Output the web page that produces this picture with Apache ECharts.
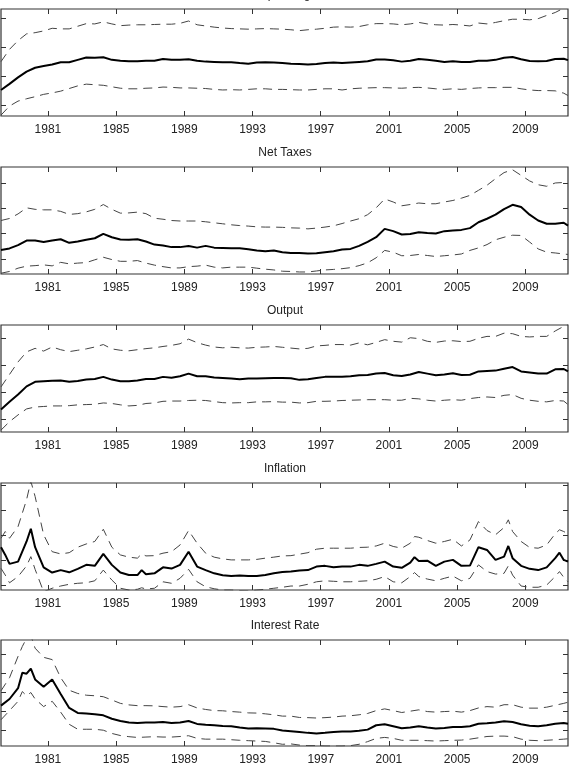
<!DOCTYPE html>
<html>
<head>
<meta charset="utf-8">
<script src="https://cdn.jsdelivr.net/npm/echarts@6/dist/echarts.min.js"></script>
<style>
  html, body { margin: 0; padding: 0; background: #fff; }
  #chart { width: 573px; height: 766px; }
</style>
</head>
<body>
<div id="chart"></div>
<script>
// dates in decimal years, one point every half year
const halfYears = [];
for (let t = 1978.25; t <= 2011.25; t += 0.5) halfYears.push(t);
halfYears.push(2011.5);
// inflation and interest rate get a few extra dates at their peaks
const inflationDates = halfYears.concat([1978.5, 1980, 1986.5, 2002.5, 2008, 2011]).sort((a, b) => a - b);
const rateDates = halfYears.concat([1979.5, 1980]).sort((a, b) => a - b);

const yearTicks = [1981, 1985, 1989, 1993, 1997, 2001, 2005, 2009];

// values in units of one y tick step (lowest tick = 0)
const spendMid = [0.53, 0.74, 0.96, 1.16, 1.29, 1.35, 1.40, 1.48, 1.48, 1.56,
  1.64, 1.63, 1.65, 1.56, 1.53, 1.51, 1.51, 1.53, 1.53, 1.59,
  1.56, 1.56, 1.58, 1.53, 1.50, 1.49, 1.48, 1.48, 1.45, 1.43,
  1.47, 1.48, 1.47, 1.45, 1.43, 1.42, 1.40, 1.42, 1.45, 1.47,
  1.45, 1.47, 1.49, 1.51, 1.57, 1.57, 1.55, 1.50, 1.53, 1.59,
  1.56, 1.53, 1.49, 1.51, 1.49, 1.49, 1.53, 1.53, 1.56, 1.63,
  1.66, 1.58, 1.52, 1.51, 1.52, 1.59, 1.60, 1.55];
const spendHi = [1.50, 1.92, 2.22, 2.45, 2.49, 2.55, 2.64, 2.62, 2.62, 2.71,
  2.80, 2.79, 2.86, 2.79, 2.73, 2.75, 2.76, 2.76, 2.77, 2.78,
  2.78, 2.81, 2.89, 2.76, 2.72, 2.68, 2.65, 2.63, 2.62, 2.61,
  2.62, 2.63, 2.62, 2.61, 2.59, 2.56, 2.59, 2.61, 2.64, 2.68,
  2.69, 2.68, 2.70, 2.76, 2.80, 2.80, 2.79, 2.76, 2.79, 2.84,
  2.79, 2.76, 2.75, 2.77, 2.75, 2.72, 2.82, 2.79, 2.84, 2.90,
  2.95, 2.95, 2.93, 2.97, 3.08, 3.18, 3.33, 3.45];
const spendLo = [-0.33, -0.02, 0.15, 0.23, 0.30, 0.38, 0.43, 0.49, 0.58, 0.67,
  0.73, 0.71, 0.69, 0.64, 0.59, 0.57, 0.57, 0.59, 0.60, 0.63,
  0.62, 0.60, 0.60, 0.59, 0.58, 0.55, 0.53, 0.54, 0.53, 0.55,
  0.57, 0.57, 0.55, 0.55, 0.54, 0.53, 0.53, 0.55, 0.57, 0.57,
  0.53, 0.57, 0.59, 0.60, 0.61, 0.61, 0.60, 0.59, 0.61, 0.62,
  0.60, 0.57, 0.55, 0.57, 0.55, 0.58, 0.60, 0.61, 0.61, 0.62,
  0.62, 0.57, 0.53, 0.51, 0.51, 0.50, 0.42, 0.34];

const taxMid = [0.36, 0.42, 0.55, 0.73, 0.73, 0.67, 0.73, 0.78, 0.64, 0.69,
  0.76, 0.82, 0.99, 0.86, 0.77, 0.76, 0.78, 0.69, 0.57, 0.53,
  0.47, 0.47, 0.51, 0.45, 0.52, 0.45, 0.44, 0.43, 0.43, 0.39,
  0.34, 0.31, 0.34, 0.27, 0.24, 0.24, 0.22, 0.23, 0.27, 0.31,
  0.38, 0.40, 0.52, 0.68, 0.86, 1.19, 1.10, 0.97, 0.99, 1.06,
  1.03, 1.01, 1.10, 1.13, 1.15, 1.22, 1.45, 1.59, 1.75, 1.97,
  2.14, 2.05, 1.75, 1.52, 1.39, 1.39, 1.43, 1.32];
const taxHi = [1.52, 1.60, 1.78, 2.02, 1.96, 1.94, 1.94, 1.88, 1.76, 1.79,
  1.86, 1.96, 2.15, 1.96, 1.81, 1.82, 1.85, 1.79, 1.61, 1.57,
  1.52, 1.50, 1.50, 1.50, 1.47, 1.43, 1.39, 1.35, 1.32, 1.30,
  1.27, 1.26, 1.26, 1.25, 1.23, 1.22, 1.19, 1.22, 1.26, 1.31,
  1.40, 1.50, 1.59, 1.75, 2.02, 2.37, 2.25, 2.10, 2.15, 2.21,
  2.18, 2.18, 2.25, 2.31, 2.40, 2.51, 2.71, 2.91, 3.17, 3.41,
  3.52, 3.30, 3.08, 2.93, 2.87, 3.00, 3.02, 2.97];
const taxLo = [-0.56, -0.49, -0.36, -0.28, -0.26, -0.23, -0.27, -0.13, -0.19, -0.16,
  -0.14, -0.03, 0.07, -0.02, -0.09, -0.09, -0.06, -0.16, -0.24, -0.30,
  -0.35, -0.35, -0.30, -0.28, -0.24, -0.32, -0.35, -0.32, -0.32, -0.32,
  -0.36, -0.40, -0.43, -0.48, -0.49, -0.51, -0.51, -0.47, -0.43, -0.41,
  -0.38, -0.34, -0.26, -0.15, 0.05, 0.34, 0.27, 0.13, 0.14, 0.18,
  0.14, 0.10, 0.13, 0.16, 0.20, 0.34, 0.44, 0.57, 0.76, 0.86,
  0.94, 0.93, 0.67, 0.40, 0.27, 0.24, 0.20, 0.18];

const outMid = [0.36, 0.64, 0.91, 1.21, 1.38, 1.40, 1.42, 1.43, 1.38, 1.41,
  1.46, 1.48, 1.56, 1.46, 1.40, 1.40, 1.43, 1.48, 1.48, 1.56,
  1.53, 1.58, 1.68, 1.58, 1.58, 1.54, 1.52, 1.50, 1.47, 1.50,
  1.50, 1.51, 1.52, 1.52, 1.51, 1.45, 1.47, 1.52, 1.56, 1.56,
  1.56, 1.58, 1.62, 1.63, 1.68, 1.70, 1.62, 1.59, 1.65, 1.74,
  1.68, 1.62, 1.65, 1.69, 1.63, 1.64, 1.76, 1.78, 1.79, 1.86,
  1.92, 1.76, 1.72, 1.68, 1.68, 1.84, 1.85, 1.76];
const outHi = [1.19, 1.65, 2.11, 2.48, 2.61, 2.51, 2.66, 2.56, 2.49, 2.54,
  2.59, 2.66, 2.75, 2.59, 2.54, 2.52, 2.56, 2.60, 2.63, 2.68,
  2.72, 2.78, 2.95, 2.82, 2.73, 2.66, 2.63, 2.65, 2.63, 2.62,
  2.65, 2.66, 2.68, 2.65, 2.62, 2.59, 2.61, 2.70, 2.72, 2.75,
  2.75, 2.73, 2.81, 2.74, 2.83, 2.93, 2.87, 2.84, 3.00, 2.97,
  2.87, 2.83, 2.88, 2.89, 2.86, 2.87, 2.98, 3.05, 3.05, 3.17,
  3.15, 3.05, 3.03, 3.05, 3.05, 3.25, 3.42, 3.49];
const outLo = [-0.40, -0.09, 0.16, 0.38, 0.45, 0.47, 0.49, 0.49, 0.50, 0.53,
  0.54, 0.55, 0.60, 0.58, 0.53, 0.49, 0.51, 0.58, 0.60, 0.66,
  0.67, 0.67, 0.69, 0.70, 0.69, 0.65, 0.61, 0.60, 0.61, 0.61,
  0.64, 0.64, 0.65, 0.63, 0.63, 0.60, 0.61, 0.66, 0.66, 0.67,
  0.69, 0.70, 0.71, 0.72, 0.72, 0.72, 0.70, 0.70, 0.77, 0.75,
  0.70, 0.67, 0.70, 0.72, 0.70, 0.76, 0.80, 0.82, 0.80, 0.88,
  0.91, 0.77, 0.70, 0.66, 0.64, 0.69, 0.67, 0.54];

const inflMid = [1.52, 1.21, 0.85, 0.94, 1.75, 2.26, 1.52, 0.71, 0.50, 0.60,
  0.51, 0.65, 0.81, 0.77, 1.25, 0.81, 0.50, 0.40, 0.40, 0.60,
  0.43, 0.47, 0.71, 0.66, 0.81, 1.34, 0.74, 0.60, 0.47, 0.39,
  0.36, 0.38, 0.36, 0.36, 0.40, 0.47, 0.52, 0.54, 0.58, 0.60,
  0.74, 0.77, 0.71, 0.74, 0.74, 0.81, 0.77, 0.85, 0.94, 0.74,
  0.69, 0.90, 1.12, 0.97, 0.98, 0.77, 0.94, 1.01, 0.77, 0.78,
  1.52, 1.41, 1.01, 1.14, 1.57, 1.08, 0.77, 0.65, 0.60, 0.71,
  1.08, 1.30, 1.01, 0.94];
const inflHi = [1.88, 2.15, 1.88, 2.35, 3.43, 4.17, 3.56, 2.02, 1.34, 1.25,
  1.30, 1.52, 1.65, 1.75, 2.24, 1.52, 1.21, 1.12, 1.08, 1.25,
  1.17, 1.18, 1.28, 1.34, 1.61, 2.19, 1.68, 1.28, 1.12, 1.05,
  1.01, 1.01, 1.01, 1.03, 1.08, 1.12, 1.17, 1.18, 1.24, 1.30,
  1.44, 1.48, 1.48, 1.48, 1.48, 1.51, 1.52, 1.57, 1.68, 1.55,
  1.48, 1.68, 1.95, 1.92, 1.79, 1.68, 1.75, 1.84, 1.57, 1.81,
  2.55, 2.19, 2.02, 2.31, 2.62, 2.15, 1.75, 1.51, 1.48, 1.61,
  2.06, 2.22, 2.15, 2.06];
const inflLo = [0.67, 0.40, 0.09, 0.34, 0.77, 1.14, 0.63, -0.27, -0.13, -0.04,
  0.03, 0.07, 0.09, 0.17, 0.60, 0.20, -0.13, -0.20, -0.17, -0.11,
  -0.16, -0.13, 0.13, 0.07, 0.27, 0.63, 0.13, -0.07, -0.15, -0.20,
  -0.20, -0.22, -0.23, -0.20, -0.17, -0.13, -0.09, -0.04, -0.04, 0.03,
  0.13, 0.17, 0.15, 0.13, 0.13, 0.15, 0.17, 0.23, 0.34, 0.13,
  0.09, 0.34, 0.50, 0.34, 0.24, 0.17, 0.27, 0.36, 0.17, 0.27,
  0.81, 0.54, 0.44, 0.47, 0.77, 0.40, -0.04, -0.09, -0.09, 0.00,
  0.34, 0.54, 0.31, 0.13];

const rateMid = [1.29, 1.64, 2.21, 3.02, 2.97, 3.24, 2.67, 2.28, 2.67, 1.90,
  1.17, 0.91, 0.88, 0.84, 0.78, 0.60, 0.48, 0.40, 0.38, 0.40,
  0.40, 0.43, 0.38, 0.40, 0.48, 0.33, 0.29, 0.26, 0.22, 0.21,
  0.14, 0.09, 0.10, 0.09, 0.07, -0.02, -0.05, -0.09, -0.14, -0.17,
  -0.14, -0.10, -0.07, -0.07, -0.03, 0.03, 0.26, 0.31, 0.21, 0.10,
  0.14, 0.21, 0.14, 0.09, 0.12, 0.17, 0.17, 0.21, 0.34, 0.36,
  0.40, 0.47, 0.43, 0.31, 0.24, 0.21, 0.26, 0.34, 0.38, 0.34];
const rateHi = [2.07, 2.76, 3.88, 4.40, 4.83, 4.97, 4.31, 3.83, 3.71, 2.76,
  2.10, 1.93, 1.84, 1.81, 1.76, 1.59, 1.41, 1.33, 1.29, 1.29,
  1.28, 1.24, 1.21, 1.24, 1.34, 1.17, 1.09, 1.03, 1.02, 0.98,
  0.95, 0.91, 0.90, 0.86, 0.81, 0.74, 0.74, 0.67, 0.66, 0.64,
  0.66, 0.69, 0.74, 0.76, 0.81, 0.88, 1.03, 1.12, 1.03, 0.93,
  1.00, 1.07, 0.98, 0.95, 0.98, 1.00, 0.95, 1.03, 1.17, 1.24,
  1.21, 1.34, 1.34, 1.21, 1.16, 1.16, 1.21, 1.31, 1.41, 1.47];
const rateLo = [0.55, 1.03, 1.52, 2.03, 1.81, 1.98, 1.64, 1.24, 1.52, 0.95,
  0.31, 0.05, 0.05, 0.05, 0.00, -0.17, -0.28, -0.34, -0.38, -0.36,
  -0.34, -0.36, -0.36, -0.33, -0.29, -0.43, -0.47, -0.47, -0.47, -0.50,
  -0.53, -0.55, -0.57, -0.59, -0.66, -0.74, -0.72, -0.78, -0.81, -0.81,
  -0.83, -0.83, -0.83, -0.81, -0.74, -0.60, -0.43, -0.38, -0.43, -0.53,
  -0.53, -0.53, -0.55, -0.57, -0.55, -0.53, -0.52, -0.47, -0.40, -0.33,
  -0.31, -0.31, -0.34, -0.47, -0.53, -0.55, -0.53, -0.50, -0.47, -0.45];

const panels = [
  { title: 'Spending', dates: halfYears, mid: spendMid, hi: spendHi, lo: spendLo, yMin: -0.36, yMax: 3.30, yTicks: [0, 1, 2, 3] },
  { title: 'Net Taxes', dates: halfYears, mid: taxMid, hi: taxHi, lo: taxLo, yMin: -0.59, yMax: 3.63, yTicks: [0, 1, 2, 3] },
  { title: 'Output', dates: halfYears, mid: outMid, hi: outHi, lo: outLo, yMin: -0.47, yMax: 3.47, yTicks: [0, 1, 2, 3] },
  { title: 'Inflation', dates: inflationDates, mid: inflMid, hi: inflHi, lo: inflLo, yMin: -0.20, yMax: 4.10, yTicks: [0, 1, 2, 3, 4] },
  { title: 'Interest Rate', dates: rateDates, mid: rateMid, hi: rateHi, lo: rateLo, yMin: -0.83, yMax: 4.74, yTicks: [0, 1, 2, 3, 4] },
];

const gridTops = [9, 167, 325, 483, 640];
const font = 'Liberation Sans, Arial, sans-serif';
const tickColor = '#333';

function pairs(xs, ys) {
  return xs.map((x, i) => [x, ys[i]]);
}

const option = { animation: false, graphic: [], grid: [], xAxis: [], yAxis: [], series: [] };

panels.forEach((p, k) => {
  // panel title, the first one sits mostly above the canvas
  option.graphic.push({
    type: 'text', x: 285, y: gridTops[k] - 20, silent: true,
    style: { text: p.title, align: 'center', verticalAlign: 'top', fontSize: 12, fill: '#222', font: '12px ' + font },
  });
  option.grid.push({
    left: 1, right: 5, top: gridTops[k], height: 107,
    show: true, borderColor: '#333', borderWidth: 1.2,
  });
  const xBase = {
    gridIndex: k, type: 'value', min: 1978.25, max: 2011.5,
    splitLine: { show: false }, axisLine: { show: false, onZero: false },
    axisTick: { inside: true, length: 5, customValues: yearTicks, lineStyle: { color: tickColor } },
  };
  option.xAxis.push(Object.assign({}, xBase, {
    position: 'bottom',
    axisLabel: { customValues: yearTicks, formatter: (v) => String(v), margin: 8, fontSize: 12, color: '#222', fontFamily: font },
  }));
  option.xAxis.push(Object.assign({}, xBase, { position: 'top', axisLabel: { show: false } }));
  const yBase = {
    gridIndex: k, type: 'value', min: p.yMin, max: p.yMax,
    splitLine: { show: false }, axisLine: { show: false, onZero: false }, axisLabel: { show: false },
    axisTick: { inside: true, length: 5, customValues: p.yTicks, lineStyle: { color: tickColor } },
  };
  option.yAxis.push(Object.assign({}, yBase, { position: 'left' }));
  option.yAxis.push(Object.assign({}, yBase, { position: 'right' }));

  [p.hi, p.lo].forEach((band) => {
    option.series.push({
      type: 'line', xAxisIndex: 2 * k, yAxisIndex: 2 * k,
      data: pairs(p.dates, band), showSymbol: false, silent: true, z: 2,
      lineStyle: { color: '#444', width: 1, type: [9, 6] },
    });
  });
  option.series.push({
    type: 'line', xAxisIndex: 2 * k, yAxisIndex: 2 * k,
    data: pairs(p.dates, p.mid), showSymbol: false, silent: true, z: 3,
    lineStyle: { color: '#000', width: 2 },
  });
});

const chart = echarts.init(document.getElementById('chart'));
chart.setOption(option);
</script>
</body>
</html>
